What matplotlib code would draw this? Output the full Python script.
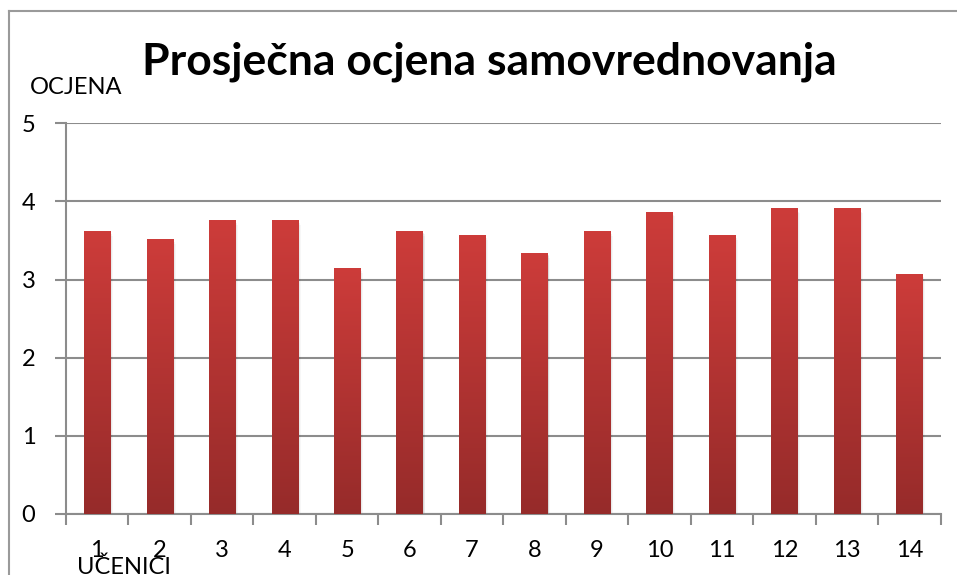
import numpy as np
import matplotlib
matplotlib.use("Agg")
import matplotlib.pyplot as plt
from matplotlib.colors import LinearSegmentedColormap

plt.rcParams['font.family'] = ['Lato', 'DejaVu Sans']

# data
ucenici = [str(i) for i in range(1, 15)]
ocjene = [3.62, 3.52, 3.76, 3.76, 3.15, 3.62, 3.57, 3.34, 3.62, 3.87, 3.57, 3.91, 3.91, 3.07]
y_ticks = [0, 1, 2, 3, 4, 5]

grey = '#8c8c8c'
fig = plt.figure(figsize=(9.57, 5.75), dpi=100)
ax = fig.add_axes([66 / 957, 1 - 514 / 575, (940.5 - 66) / 957, (514 - 123.3) / 575])

x = np.arange(len(ocjene))
bars = ax.bar(x, ocjene, width=0.42, color='#c0392f', zorder=3)

# vertical gradient inside every bar, bright on top, darker at the bottom
cmap = LinearSegmentedColormap.from_list('crvena', ['#962b2a', '#cd3c3a'])
grad = np.linspace(0, 1, 256).reshape(-1, 1)
for b in bars:
    x0, w, h = b.get_x(), b.get_width(), b.get_height()
    # soft shadow
    for k, a in enumerate([0.08, 0.05, 0.03]):
        ax.bar(x0 + w / 2 + 0.015 * (k + 1), h, width=w, bottom=-0.02 * (k + 1),
               color='black', alpha=a, linewidth=0, zorder=2)
    im = ax.imshow(grad, extent=[x0, x0 + w, 0, h], origin='lower', aspect='auto',
                   cmap=cmap, zorder=4)
    im.set_clip_path(b)

ax.set_xlim(-0.5, len(ocjene) - 0.5)
ax.set_ylim(0, 5)
ax.set_yticks(y_ticks)
ax.set_xticks(x)
ax.set_xticklabels(ucenici)
ax.set_xticks(np.arange(-0.5, len(ocjene), 1), minor=True)
ax.tick_params(axis='x', which='major', length=0, pad=19, labelsize=17)
ax.tick_params(axis='x', which='minor', length=8, color=grey, width=1.5, direction='out')
ax.tick_params(axis='y', length=8, color=grey, width=1.5, pad=14, labelsize=17)
ax.yaxis.grid(True, color=grey, linewidth=1.5, zorder=1)
ax.set_axisbelow(True)
for s in ['top', 'right']:
    ax.spines[s].set_visible(False)
for s in ['left', 'bottom']:
    ax.spines[s].set_color(grey)
    ax.spines[s].set_linewidth(1.5)

fig.text(489 / 957, 1 - 62 / 575, 'Prosječna ocjena samovrednovanja', ha='center', va='center',
         fontsize=32, fontweight='bold')
fig.text(30 / 957, 1 - 88 / 575, 'OCJENA', ha='left', va='center', fontsize=17)
fig.text(77 / 957, 1 - 567 / 575, 'UČENICI', ha='left', va='center', fontsize=17)

# chart frame
fig.add_artist(plt.Line2D([9 / 957, 9 / 957], [0, 1 - 11 / 575], color='#9a9a9a', lw=1.5,
                          transform=fig.transFigure))
fig.add_artist(plt.Line2D([9 / 957, 1], [1 - 11 / 575, 1 - 11 / 575], color='#9a9a9a', lw=1.5,
                          transform=fig.transFigure))

fig.savefig('out.png', dpi=100)
